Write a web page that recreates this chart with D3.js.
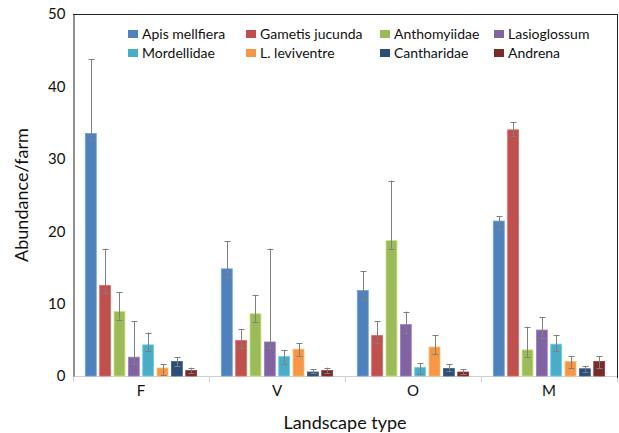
<!DOCTYPE html>
<html>
<head>
<meta charset="utf-8">
<script src="https://cdn.jsdelivr.net/npm/d3@7"></script>
<style>
  html, body { margin: 0; padding: 0; background: #fff; }
  svg { display: block; font-family: Lato, "Open Sans", sans-serif; }
</style>
</head>
<body>
<svg id="chart" width="619" height="433"></svg>
<script>
const categories = ["F", "V", "O", "M"];
const seriesNames = ["Apis mellfiera", "Gametis jucunda", "Anthomyiidae", "Lasioglossum",
                     "Mordellidae", "L. leviventre", "Cantharidae", "Andrena"];
const colors = ["#4F81BD", "#C0504D", "#9BBB59", "#8064A2", "#4BACC6", "#F79646", "#2C4D75", "#772C2A"];

const apisMean = [33.5, 14.8, 11.8, 21.4];
const apisUpper = [43.8, 18.6, 14.5, 22.1];
const apisLower = [32.6, 13.7, 10.7, 20.3];

const gametisMean = [12.5, 4.9, 5.6, 34.0];
const gametisUpper = [17.6, 6.5, 7.6, 35.1];
const gametisLower = [11.5, 3.9, 4.5, 33.1];

const anthoMean = [8.9, 8.6, 18.7, 3.6];
const anthoUpper = [11.6, 11.2, 27.0, 6.8];
const anthoLower = [7.8, 7.5, 17.6, 2.6];

const lasioMean = [2.6, 4.7, 7.1, 6.35];
const lasioUpper = [7.6, 17.6, 8.9, 8.1];
const lasioLower = [1.6, 3.8, 6.0, 5.3];

const mordMean = [4.3, 2.7, 1.2, 4.4];
const mordUpper = [6.0, 3.6, 1.8, 5.7];
const mordLower = [3.4, 1.7, 0.3, 3.4];

const leviMean = [1.1, 3.7, 4.0, 2.0];
const leviUpper = [1.6, 4.5, 5.6, 2.7];
const leviLower = [0.2, 2.8, 3.0, 1.1];

const canthMean = [2.0, 0.55, 1.05, 1.0];
const canthUpper = [2.6, 0.9, 1.6, 1.4];
const canthLower = [1.4, 0.4, 0.7, 0.6];

const andrenaMean = [0.75, 0.75, 0.55, 2.0];
const andrenaUpper = [1.15, 1.15, 0.9, 2.7];
const andrenaLower = [0.45, 0.45, 0.3, 1.1];

const yTicks = [0, 10, 20, 30, 40, 50];

const means = [apisMean, gametisMean, anthoMean, lasioMean, mordMean, leviMean, canthMean, andrenaMean];
const uppers = [apisUpper, gametisUpper, anthoUpper, lasioUpper, mordUpper, leviUpper, canthUpper, andrenaUpper];
const lowers = [apisLower, gametisLower, anthoLower, lasioLower, mordLower, leviLower, canthLower, andrenaLower];

const data = [];
categories.forEach((c, ci) => {
  seriesNames.forEach((s, si) => {
    data.push({cat: c, series: s, si, mean: means[si][ci], up: uppers[si][ci], lo: lowers[si][ci]});
  });
});

const svg = d3.select("#chart");
const pLeft = 73, pRight = 617, pTop = 14, pBottom = 376;

const x0 = d3.scaleBand().domain(categories).range([pLeft, pRight]).padding(0);
const x1 = d3.scaleBand().domain(seriesNames).range([0, x0.bandwidth()])
  .paddingInner(0.24).paddingOuter(0.86);
const y = d3.scaleLinear().domain([0, 50]).range([pBottom, pTop]);
const color = d3.scaleOrdinal().domain(seriesNames).range(colors);

// x axis baseline + separators
const xAxisG = svg.append("g");
xAxisG.append("line").attr("x1", pLeft).attr("x2", pRight).attr("y1", pBottom + 0.5).attr("y2", pBottom + 0.5)
  .attr("stroke", "#d0d0d0").attr("stroke-width", 1);
const seps = categories.map(c => x0(c)).concat([pRight]);
xAxisG.selectAll("line.sep").data(seps).enter().append("line").attr("class", "sep")
  .attr("x1", d => Math.round(d) + 0.5).attr("x2", d => Math.round(d) + 0.5)
  .attr("y1", pBottom).attr("y2", pBottom + 6)
  .attr("stroke", "#d0d0d0");
xAxisG.selectAll("text.cat").data(categories).enter().append("text").attr("class", "cat")
  .attr("x", d => x0(d) + x0.bandwidth() / 2).attr("y", 396)
  .attr("text-anchor", "middle").attr("font-size", 15).attr("fill", "#111").text(d => d);

// bars
const bars = svg.append("g");
bars.selectAll("rect").data(data).enter().append("rect")
  .attr("x", d => x0(d.cat) + x1(d.series))
  .attr("y", d => y(d.mean))
  .attr("width", x1.bandwidth())
  .attr("height", d => y(0) - y(d.mean))
  .attr("fill", d => color(d.series))
  .attr("stroke", d => d3.color(color(d.series)).brighter(0.6))
  .attr("stroke-width", 0.8);

// error bars
const eb = svg.append("g").attr("stroke", "#7f7f7f").attr("stroke-width", 1);
data.forEach(d => {
  const cx = Math.round(x0(d.cat) + x1(d.series) + x1.bandwidth() / 2) + 0.5;
  eb.append("line").attr("x1", cx).attr("x2", cx).attr("y1", y(d.up)).attr("y2", y(d.lo));
  eb.append("line").attr("x1", cx - 3).attr("x2", cx + 3).attr("y1", Math.round(y(d.up)) + 0.5).attr("y2", Math.round(y(d.up)) + 0.5);
  eb.append("line").attr("x1", cx - 3).attr("x2", cx + 3).attr("y1", Math.round(y(d.lo)) + 0.5).attr("y2", Math.round(y(d.lo)) + 0.5);
});

// y axis
const yAxis = d3.axisLeft(y).tickValues(yTicks).tickSize(0).tickPadding(8).tickFormat(d3.format("d"));
const yG = svg.append("g").attr("transform", `translate(${pLeft + 0.5},0)`).call(yAxis);
yG.select(".domain").attr("stroke", "#222").attr("stroke-width", 1);
yG.selectAll("text").attr("font-size", 15).attr("fill", "#111").attr("font-family", "Lato, 'Open Sans', sans-serif");

// frame top/right
svg.append("line").attr("x1", pLeft).attr("x2", pRight + 0.5).attr("y1", pTop + 0.5).attr("y2", pTop + 0.5)
  .attr("stroke", "#222");
svg.append("line").attr("x1", pRight + 0.5).attr("x2", pRight + 0.5).attr("y1", pTop).attr("y2", pBottom + 2)
  .attr("stroke", "#222");

// axis titles
svg.append("text").attr("transform", "translate(28,195) rotate(-90)")
  .attr("text-anchor", "middle").attr("font-size", 18).attr("fill", "#111").text("Abundance/farm");
svg.append("text").attr("x", 345).attr("y", 429)
  .attr("text-anchor", "middle").attr("font-size", 18).attr("fill", "#111").text("Landscape type");

// legend
const legX = [128, 246, 380, 494];
const legY = [34, 53];
const leg = svg.append("g");
seriesNames.forEach((s, i) => {
  const col = i % 4, row = Math.floor(i / 4);
  const g = leg.append("g").attr("transform", `translate(${legX[col]},${legY[row]})`);
  g.append("rect").attr("x", 0).attr("y", -4).attr("width", 10).attr("height", 8).attr("fill", color(s));
  g.append("text").attr("x", 14).attr("y", 0).attr("dy", "0.35em")
    .attr("font-size", 14).attr("fill", "#111").text(s);
});
</script>
</body>
</html>
